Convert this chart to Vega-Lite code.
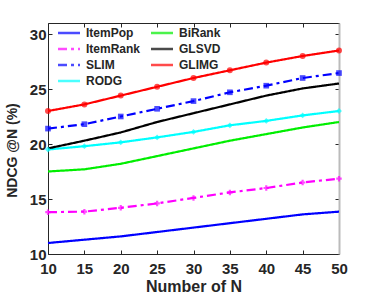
{
  "$schema": "https://vega.github.io/schema/vega-lite/v6.json",
  "width": 291,
  "height": 231,
  "autosize": {"type": "none"},
  "padding": {"left": 48, "top": 23, "right": 35, "bottom": 46},
  "background": "white",
  "config": {
    "font": "Liberation Sans",
    "view": {"stroke": null},
    "axis": {
      "labelFont": "Liberation Sans",
      "labelFontWeight": "bold",
      "labelFontSize": 15,
      "labelColor": "#262626",
      "labelFlush": false,
      "titleFont": "Liberation Sans",
      "titleFontWeight": "bold",
      "titleFontSize": 16,
      "titleColor": "#262626",
      "domainColor": "#262626",
      "tickColor": "#262626",
      "grid": false
    }
  },
  "data": {
    "values": [
      {"N": 10, "method": "ItemPop", "v": 11.0},
      {"N": 15, "method": "ItemPop", "v": 11.3},
      {"N": 20, "method": "ItemPop", "v": 11.6},
      {"N": 25, "method": "ItemPop", "v": 12.0},
      {"N": 30, "method": "ItemPop", "v": 12.4},
      {"N": 35, "method": "ItemPop", "v": 12.8},
      {"N": 40, "method": "ItemPop", "v": 13.2},
      {"N": 45, "method": "ItemPop", "v": 13.6},
      {"N": 50, "method": "ItemPop", "v": 13.85},
      {"N": 10, "method": "ItemRank", "v": 13.8},
      {"N": 15, "method": "ItemRank", "v": 13.85},
      {"N": 20, "method": "ItemRank", "v": 14.2},
      {"N": 25, "method": "ItemRank", "v": 14.6},
      {"N": 30, "method": "ItemRank", "v": 15.1},
      {"N": 35, "method": "ItemRank", "v": 15.6},
      {"N": 40, "method": "ItemRank", "v": 16.0},
      {"N": 45, "method": "ItemRank", "v": 16.5},
      {"N": 50, "method": "ItemRank", "v": 16.85},
      {"N": 10, "method": "SLIM", "v": 21.4},
      {"N": 15, "method": "SLIM", "v": 21.8},
      {"N": 20, "method": "SLIM", "v": 22.5},
      {"N": 25, "method": "SLIM", "v": 23.2},
      {"N": 30, "method": "SLIM", "v": 23.9},
      {"N": 35, "method": "SLIM", "v": 24.7},
      {"N": 40, "method": "SLIM", "v": 25.3},
      {"N": 45, "method": "SLIM", "v": 26.0},
      {"N": 50, "method": "SLIM", "v": 26.45},
      {"N": 10, "method": "RODG", "v": 19.5},
      {"N": 15, "method": "RODG", "v": 19.8},
      {"N": 20, "method": "RODG", "v": 20.15},
      {"N": 25, "method": "RODG", "v": 20.6},
      {"N": 30, "method": "RODG", "v": 21.1},
      {"N": 35, "method": "RODG", "v": 21.7},
      {"N": 40, "method": "RODG", "v": 22.1},
      {"N": 45, "method": "RODG", "v": 22.6},
      {"N": 50, "method": "RODG", "v": 23.0},
      {"N": 10, "method": "BiRank", "v": 17.5},
      {"N": 15, "method": "BiRank", "v": 17.7},
      {"N": 20, "method": "BiRank", "v": 18.2},
      {"N": 25, "method": "BiRank", "v": 18.9},
      {"N": 30, "method": "BiRank", "v": 19.6},
      {"N": 35, "method": "BiRank", "v": 20.3},
      {"N": 40, "method": "BiRank", "v": 20.9},
      {"N": 45, "method": "BiRank", "v": 21.5},
      {"N": 50, "method": "BiRank", "v": 22.0},
      {"N": 10, "method": "GLSVD", "v": 19.6},
      {"N": 15, "method": "GLSVD", "v": 20.3},
      {"N": 20, "method": "GLSVD", "v": 21.05},
      {"N": 25, "method": "GLSVD", "v": 22.0},
      {"N": 30, "method": "GLSVD", "v": 22.8},
      {"N": 35, "method": "GLSVD", "v": 23.6},
      {"N": 40, "method": "GLSVD", "v": 24.4},
      {"N": 45, "method": "GLSVD", "v": 25.05},
      {"N": 50, "method": "GLSVD", "v": 25.5},
      {"N": 10, "method": "GLIMG", "v": 23.0},
      {"N": 15, "method": "GLIMG", "v": 23.6},
      {"N": 20, "method": "GLIMG", "v": 24.4},
      {"N": 25, "method": "GLIMG", "v": 25.2},
      {"N": 30, "method": "GLIMG", "v": 26.0},
      {"N": 35, "method": "GLIMG", "v": 26.7},
      {"N": 40, "method": "GLIMG", "v": 27.4},
      {"N": 45, "method": "GLIMG", "v": 28.0},
      {"N": 50, "method": "GLIMG", "v": 28.5}
    ]
  },
  "resolve": {"axis": {"x": "independent", "y": "independent"}},
  "layer": [
    {
      "mark": {"type": "line", "strokeWidth": 2.2},
      "encoding": {
        "x": {
          "field": "N", "type": "quantitative",
          "scale": {"domain": [10, 50], "nice": false, "zero": false},
          "axis": {"values": [10, 15, 20, 25, 30, 35, 40, 45, 50], "tickSize": -4, "labelPadding": 11, "title": "Number of N", "titlePadding": 2, "domainWidth": 1}
        },
        "y": {
          "field": "v", "type": "quantitative",
          "scale": {"domain": [10, 31], "nice": false, "zero": false},
          "axis": {"values": [10, 15, 20, 25, 30], "tickSize": -4, "labelPadding": 6, "title": "NDCG @N (%)", "titleFontSize": 14, "titlePadding": 10, "titleY": 127}
        },
        "color": {
          "field": "method", "type": "nominal",
          "sort": ["ItemPop", "ItemRank", "SLIM", "RODG", "BiRank", "GLSVD", "GLIMG"],
          "scale": {
            "domain": ["ItemPop", "ItemRank", "SLIM", "RODG", "BiRank", "GLSVD", "GLIMG"],
            "range": ["#0000ff", "#ff00ff", "#0000ff", "#00ffff", "#00ee00", "#000000", "#ff0000"]
          },
          "legend": {
            "title": null, "orient": "none", "legendX": 14, "legendY": 3,
            "columns": 2, "columnPadding": 5, "rowPadding": 3,
            "symbolType": "M-2,0H2", "symbolSize": 121, "symbolStrokeWidth": 2.5,
            "labelFont": "Liberation Sans", "labelFontWeight": "bold", "labelFontSize": 12, "labelColor": "#262626",
            "labelOffset": 10
          }
        },
        "strokeDash": {
          "field": "method", "type": "nominal",
          "sort": ["ItemPop", "ItemRank", "SLIM", "RODG", "BiRank", "GLSVD", "GLIMG"],
          "scale": {
            "domain": ["ItemPop", "ItemRank", "SLIM", "RODG", "BiRank", "GLSVD", "GLIMG"],
            "range": [[1, 0], [9, 4, 3, 4], [9, 4, 3, 4], [1, 0], [1, 0], [1, 0], [1, 0]]
          },
          "legend": null
        }
      }
    },
    {
      "transform": [{"filter": {"field": "method", "oneOf": ["ItemRank", "SLIM", "RODG", "GLIMG"]}}],
      "mark": {"type": "point", "filled": true, "strokeWidth": 1.5},
      "encoding": {
        "x": {
          "field": "N", "type": "quantitative",
          "axis": {"orient": "top", "values": [10, 15, 20, 25, 30, 35, 40, 45, 50], "labels": false, "tickSize": -4, "title": null}
        },
        "y": {
          "field": "v", "type": "quantitative",
          "axis": {"orient": "right", "values": [10, 15, 20, 25, 30], "labels": false, "tickSize": -4, "title": null, "domainColor": "#bbbbbb", "domainWidth": 2}
        },
        "color": {"field": "method", "type": "nominal"},
        "shape": {
          "field": "method", "type": "nominal",
          "scale": {
            "domain": ["ItemRank", "SLIM", "RODG", "GLIMG"],
            "range": ["cross", "square", "diamond", "circle"]
          },
          "legend": null
        },
        "size": {
          "field": "method", "type": "nominal",
          "scale": {
            "domain": ["ItemRank", "SLIM", "RODG", "GLIMG"],
            "range": [30, 36, 70, 60]
          },
          "legend": null
        }
      }
    }
  ]
}
